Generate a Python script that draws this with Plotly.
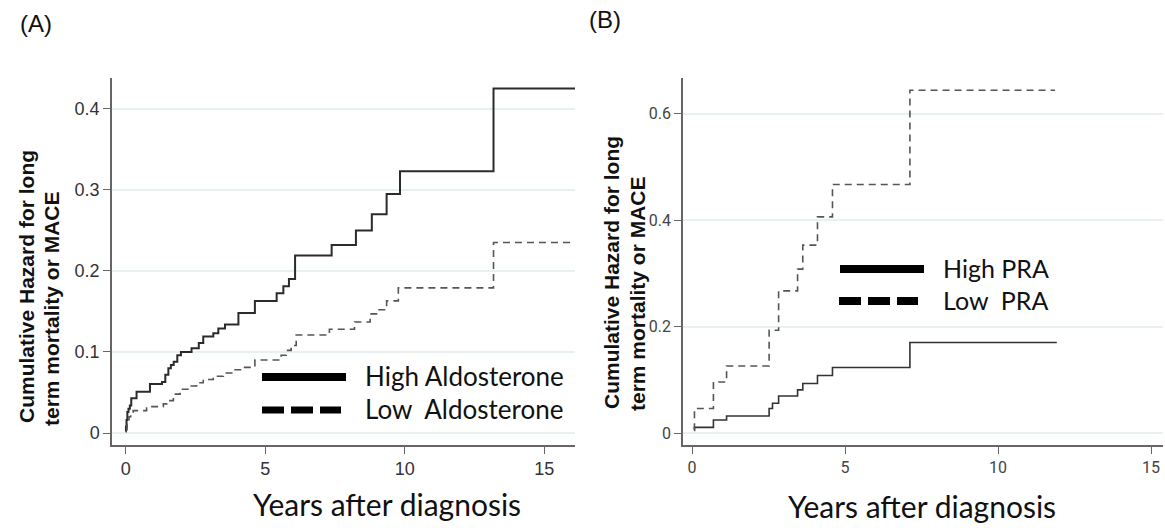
import plotly.graph_objects as go

W, H = 1165, 528

# ---------------- data ----------------
# Panel A: cumulative hazard by aldosterone group
a_high_t = [0.0, 0.01, 0.03, 0.06, 0.10, 0.15, 0.20, 0.39, 0.87, 1.30, 1.42, 1.53, 1.62, 1.72, 1.85, 1.98,
            2.36, 2.62, 2.78, 3.14, 3.32, 3.56, 4.04, 4.63, 5.41, 5.65, 5.85, 6.07, 7.38, 8.25, 8.82,
            9.35, 9.83, 13.18, 16.1]
a_high_v = [0.002, 0.008, 0.016, 0.026, 0.030, 0.034, 0.043, 0.051, 0.0605, 0.063, 0.072, 0.080, 0.084,
            0.088, 0.096, 0.100, 0.1045, 0.111, 0.119, 0.123, 0.129, 0.134, 0.148, 0.163, 0.1724,
            0.181, 0.190, 0.219, 0.232, 0.250, 0.270, 0.295, 0.323, 0.425, 0.425]

a_low_t = [0.02, 0.05, 0.12, 0.18, 0.27, 0.75, 1.35, 1.47, 1.71, 1.95, 2.31, 2.54, 2.78, 3.14, 3.50,
           3.85, 4.21, 4.63, 5.57, 5.75, 5.93, 6.11, 7.30, 8.20, 8.76, 9.05, 9.35, 9.77, 13.18, 15.95]
a_low_v = [0.004, 0.012, 0.020, 0.024, 0.0276, 0.0325, 0.036, 0.040, 0.048, 0.054, 0.058, 0.062, 0.066,
           0.070, 0.074, 0.078, 0.081, 0.090, 0.096, 0.102, 0.108, 0.121, 0.128, 0.137, 0.147, 0.152,
           0.163, 0.179, 0.235, 0.235]

# Panel B: cumulative hazard by PRA group
b_high_t = [0.07, 0.08, 0.70, 1.13, 2.52, 2.63, 2.83, 3.45, 3.62, 4.10, 4.59, 7.12, 11.92]
b_high_v = [0.005, 0.0106, 0.0244, 0.032, 0.046, 0.056, 0.0695, 0.081, 0.093, 0.108, 0.123, 0.170, 0.170]

b_low_t = [0.07, 0.08, 0.70, 1.13, 2.52, 2.83, 3.45, 3.62, 4.10, 4.59, 7.12, 11.86]
b_low_v = [0.006, 0.046, 0.096, 0.126, 0.193, 0.267, 0.308, 0.353, 0.406, 0.467, 0.644, 0.644]

a_yticks = [0, 0.1, 0.2, 0.3, 0.4]
a_ytick_text = ["0", "0.1", "0.2", "0.3", "0.4"]
b_yticks = [0, 0.2, 0.4, 0.6]
b_ytick_text = ["0", "0.2", "0.4", "0.6"]
x_ticks = [0, 5, 10, 15]
x_tick_text = ["0", "5", "10", "15"]

legend_a = ["High Aldosterone", "Low  Aldosterone"]
legend_b = ["High PRA", "Low  PRA"]
y_title_lines = ["Cumulative Hazard for long", "term mortality or MACE"]
x_title = "Years after diagnosis"
panel_labels = ["(A)", "(B)"]


def px(x):
    return x / W


def py(y):
    return 1 - y / H


fig = go.Figure()

fig.add_trace(go.Scatter(x=a_high_t, y=a_high_v, mode="lines", line=dict(shape="hv", color="#2b2b2b", width=2),
                         xaxis="x", yaxis="y", showlegend=False, hoverinfo="skip"))
fig.add_trace(go.Scatter(x=a_low_t, y=a_low_v, mode="lines",
                         line=dict(shape="hv", color="#555555", width=1.6, dash="7px,5px"),
                         xaxis="x", yaxis="y", showlegend=False, hoverinfo="skip"))
fig.add_trace(go.Scatter(x=b_high_t, y=b_high_v, mode="lines", line=dict(shape="hv", color="#333333", width=1.6),
                         xaxis="x2", yaxis="y2", showlegend=False, hoverinfo="skip"))
fig.add_trace(go.Scatter(x=b_low_t, y=b_low_v, mode="lines",
                         line=dict(shape="hv", color="#555555", width=1.6, dash="7px,5px"),
                         xaxis="x2", yaxis="y2", showlegend=False, hoverinfo="skip"))

grid_col = "#e9f0f2"
axis_col = "#666666"
tick_font_a = dict(family="Liberation Sans, Arial, sans-serif", size=18, color="#333333")
tick_font_b = dict(family="Liberation Sans Narrow, Arial Narrow, Roboto, sans-serif", size=16, color="#444444")

common_x = dict(showline=True, linecolor=axis_col, linewidth=1.5, ticks="outside", ticklen=7,
                tickcolor=axis_col, tickwidth=1.2, showgrid=False, zeroline=False,
                tickvals=x_ticks, ticktext=x_tick_text, ticklabeloverflow="allow")
common_y = dict(showline=True, linecolor=axis_col, linewidth=1.5, ticks="outside", ticklen=7,
                tickcolor=axis_col, tickwidth=1.2, showgrid=True, gridcolor=grid_col, gridwidth=1.5,
                zeroline=False)

fig.update_layout(
    width=W, height=H, margin=dict(l=0, r=0, t=0, b=0),
    paper_bgcolor="white", plot_bgcolor="white",
    xaxis=dict(domain=[px(112), px(575)], range=[-0.49, 16.1], anchor="y",
               tickfont=tick_font_a, **common_x),
    yaxis=dict(domain=[py(445), py(78)], range=[-0.0148, 0.438], anchor="x",
               tickvals=a_yticks, ticktext=a_ytick_text, tickfont=tick_font_a, **common_y),
    xaxis2=dict(domain=[px(683), px(1163)], range=[-0.294, 15.39], anchor="y2",
                tickfont=tick_font_b, **common_x),
    yaxis2=dict(domain=[py(445), py(78)], range=[-0.0225, 0.667], anchor="x2",
                tickvals=b_yticks, ticktext=b_ytick_text, tickfont=tick_font_b, **common_y),
)

# legend samples (drawn as shapes in paper coords)
shapes = []
shapes.append(dict(type="line", xref="paper", yref="paper", x0=px(262), x1=px(346), y0=py(377), y1=py(377),
                   line=dict(color="black", width=8)))
shapes.append(dict(type="line", xref="paper", yref="paper", x0=px(262), x1=px(341), y0=py(410), y1=py(410),
                   line=dict(color="black", width=7, dash="22px,7px")))
shapes.append(dict(type="line", xref="paper", yref="paper", x0=px(840), x1=px(924), y0=py(269), y1=py(269),
                   line=dict(color="black", width=8)))
shapes.append(dict(type="line", xref="paper", yref="paper", x0=px(839), x1=px(918), y0=py(301), y1=py(301),
                   line=dict(color="black", width=8, dash="22px,7px")))
fig.update_layout(shapes=shapes)

leg_font_a = dict(family="Lato, Carlito, Open Sans, sans-serif", size=26, color="#111111")
leg_font_b = dict(family="Lato, Carlito, Open Sans, sans-serif", size=25, color="#111111")
title_font = dict(family="Lato, Carlito, Open Sans, sans-serif", size=30, color="#111111")
ytitle_font = dict(family="Liberation Sans, Arial, sans-serif", size=21, color="#111111")
plab_font = dict(family="Liberation Sans Narrow, Arial Narrow, Liberation Sans, sans-serif", size=24, color="#111111")

ann = []
ann.append(dict(text=legend_a[0], x=px(363), y=py(376), xanchor="left", yanchor="middle", font=leg_font_a))
ann.append(dict(text=legend_a[1], x=px(363), y=py(409), xanchor="left", yanchor="middle", font=leg_font_a))
ann.append(dict(text=legend_b[0], x=px(941), y=py(268), xanchor="left", yanchor="middle", font=leg_font_b))
ann.append(dict(text=legend_b[1], x=px(941), y=py(300), xanchor="left", yanchor="middle", font=leg_font_b))

more = [
    dict(text=x_title, x=px(387), y=py(504), font=title_font),
    dict(text=x_title, x=px(922), y=py(506), font=title_font),
    dict(text="<b>" + y_title_lines[0] + "</b>", x=px(26), y=py(287), textangle=-90, font=ytitle_font),
    dict(text="<b>" + y_title_lines[1] + "</b>", x=px(51), y=py(309), textangle=-90, font=ytitle_font),
    dict(text="<b>" + y_title_lines[0] + "</b>", x=px(611), y=py(273), textangle=-90, font=ytitle_font),
    dict(text="<b>" + y_title_lines[1] + "</b>", x=px(637), y=py(294), textangle=-90, font=ytitle_font),
    dict(text=panel_labels[0], x=px(36), y=py(23), font=plab_font),
    dict(text=panel_labels[1], x=px(605), y=py(19), font=plab_font),
]
for a in more:
    a.update(xanchor="center", yanchor="middle")
ann += more
for a in ann:
    a.update(xref="paper", yref="paper", showarrow=False)
fig.update_layout(annotations=ann)

fig.write_html("out.html", config={"displayModeBar": False},
               post_script="document.body.style.margin='0';document.body.style.overflow='hidden';")
